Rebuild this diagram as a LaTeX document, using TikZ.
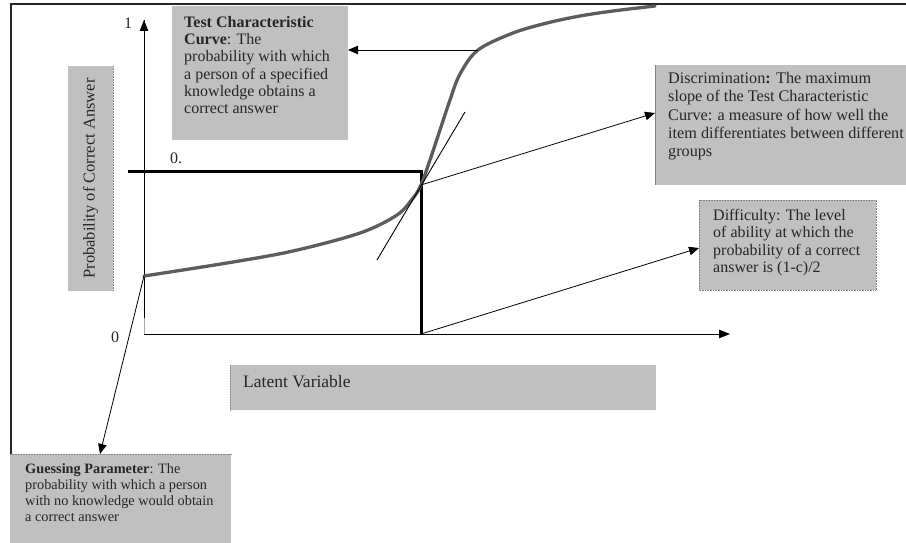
\documentclass[tikz,border=0pt]{standalone}
\usepackage{fontspec}
\setmainfont{Liberation Serif}
\usetikzlibrary{arrows.meta}
\definecolor{boxgray}{HTML}{C0C0C0}
\definecolor{curvegray}{HTML}{5C5C5C}
\definecolor{edgegray}{HTML}{808080}
\begin{document}
\begin{tikzpicture}[x=1pt,y=-1pt,
  box/.style={fill=boxgray, draw=none, inner sep=0pt, outer sep=0pt, anchor=north west},
  txt/.style={anchor=north west, align=left, inner sep=0pt, text=black!85},
  arr/.style={draw=black, line width=0.8pt, -{Triangle[length=10pt,width=8.5pt]}},
  thickline/.style={draw=black, line width=3pt},
  axis/.style={draw=black, line width=0.9pt},
  dotedge/.style={draw=edgegray, line width=0.6pt, densely dotted},
  num/.style={inner sep=0pt, font=\fontsize{16}{18}\selectfont, text=black!85}]
\useasboundingbox (0,0) rectangle (906,543);
\fill[white] (0,0) rectangle (906,543);

% frame
\draw[line width=2pt, black!85] (11,543) -- (11,4) -- (906,4);

% boxes
\node[box, minimum width=176pt, minimum height=134pt] (tccbox) at (172,6) {};
\node[box, minimum width=251pt, minimum height=120pt] (discbox) at (655,65) {};
\node[box, minimum width=177pt, minimum height=90pt] (diffbox) at (699,200) {};
\node[box, minimum width=45pt, minimum height=225pt] (ylabbox) at (68,66) {};
\node[box, minimum width=426pt, minimum height=45pt] (latbox) at (230,365) {};
\node[box, minimum width=221pt, minimum height=89pt] (guessbox) at (10,454) {};

% box edges
\draw[dotedge] (diffbox.north west) rectangle (diffbox.south east);
\draw[dotedge] (latbox.north west) -- (latbox.south west);
\draw[dotedge] (ylabbox.north east) -- (ylabbox.south east);
\draw[dotedge] (guessbox.north west) -- (guessbox.north east);
\draw[draw=edgegray, line width=0.6pt] (discbox.north west) -- (discbox.south west);

% texts
\node[txt, font=\fontsize{16}{17.3}\selectfont] (tcctext) at (184,16)
  {\textbf{Test Characteristic}\\\textbf{Curve}: The\\probability with which\\a person of a specified\\knowledge obtains a\\correct answer};
\node[txt, font=\fontsize{16.2}{18.3}\selectfont] (disctext) at (668,72)
  {Discrimination\textbf{:} The maximum\\slope of the Test Characteristic\\Curve: a measure of how well the\\item differentiates between different\\groups};
\node[txt, font=\fontsize{16}{17.5}\selectfont] (difftext) at (713,209)
  {Difficulty: The level\\of ability at which the\\probability of a correct\\answer is (1-c)/2};
\node[anchor=base west, inner sep=0pt, text=black!85, font=\fontsize{17.5}{20}\selectfont] (lattext) at (243,387) {Latent Variable};
\node[txt, font=\fontsize{14.3}{16}\selectfont] (guesstext) at (25,463)
  {\textbf{Guessing Parameter}: The\\probability with which a person\\with no knowledge would obtain\\a correct answer};
\node[inner sep=0pt, rotate=90, font=\fontsize{16.5}{18}\selectfont, text=black!85] (ylabtext) at (ylabbox.center) {Probability of Correct Answer};

% numbers
\node[num] (one) at (128,23) {1};
\node[num] (zero) at (115,337) {0};
\node[num] (half) at (176,158) {0.};

% key points
\coordinate (origin) at (144,334);
\coordinate (ytop) at (144,20);
\coordinate (xend) at (730,334);
\coordinate (c0) at (144,276);
\coordinate (cm) at (421,185);
\coordinate (ctop) at (478,50);
\coordinate (cend) at (655,6);
\coordinate (xd) at (421,334);
\coordinate (hl) at (128,171);
\coordinate (hr) at (421,171);
\coordinate (t1) at (377,260);
\coordinate (t2) at (465,112);
\coordinate (discin) at (655,113);
\coordinate (diffin) at (699,248);
\coordinate (guessin) at (100,454);

% axes
\draw[axis] (144,318) -- (ytop);
\draw[draw=black!35, line width=0.6pt] (origin) -- (144,318);
\draw[axis, -{Triangle[length=11pt,width=8.5pt]}] (origin) -- (xend);
\draw[axis, -{Triangle[length=11pt,width=8.5pt]}] (144,40) -- (ytop);

% thick lines
\draw[thickline] (hl) -- (hr) -- (xd);

% curve
\draw[draw=curvegray, line width=3.3pt, line cap=round] plot[smooth, tension=0.55] coordinates
  {(c0) (227,263) (293,251) (360,233) (397,215) (413,198) (cm) (430,160) (440,130) (450,100) (460,74) (ctop) (513,33) (547,23) (580,16) (613,11) (cend)};

% tangent
\draw[line width=0.9pt] (t1) -- (t2);

% connectors
\draw[arr] (ctop) -- (tccbox.east |- ctop);
\draw[arr] (cm) -- (discin);
\draw[arr] (xd) -- (diffin);
\draw[arr] (c0) -- (guessin);
\end{tikzpicture}
\end{document}
